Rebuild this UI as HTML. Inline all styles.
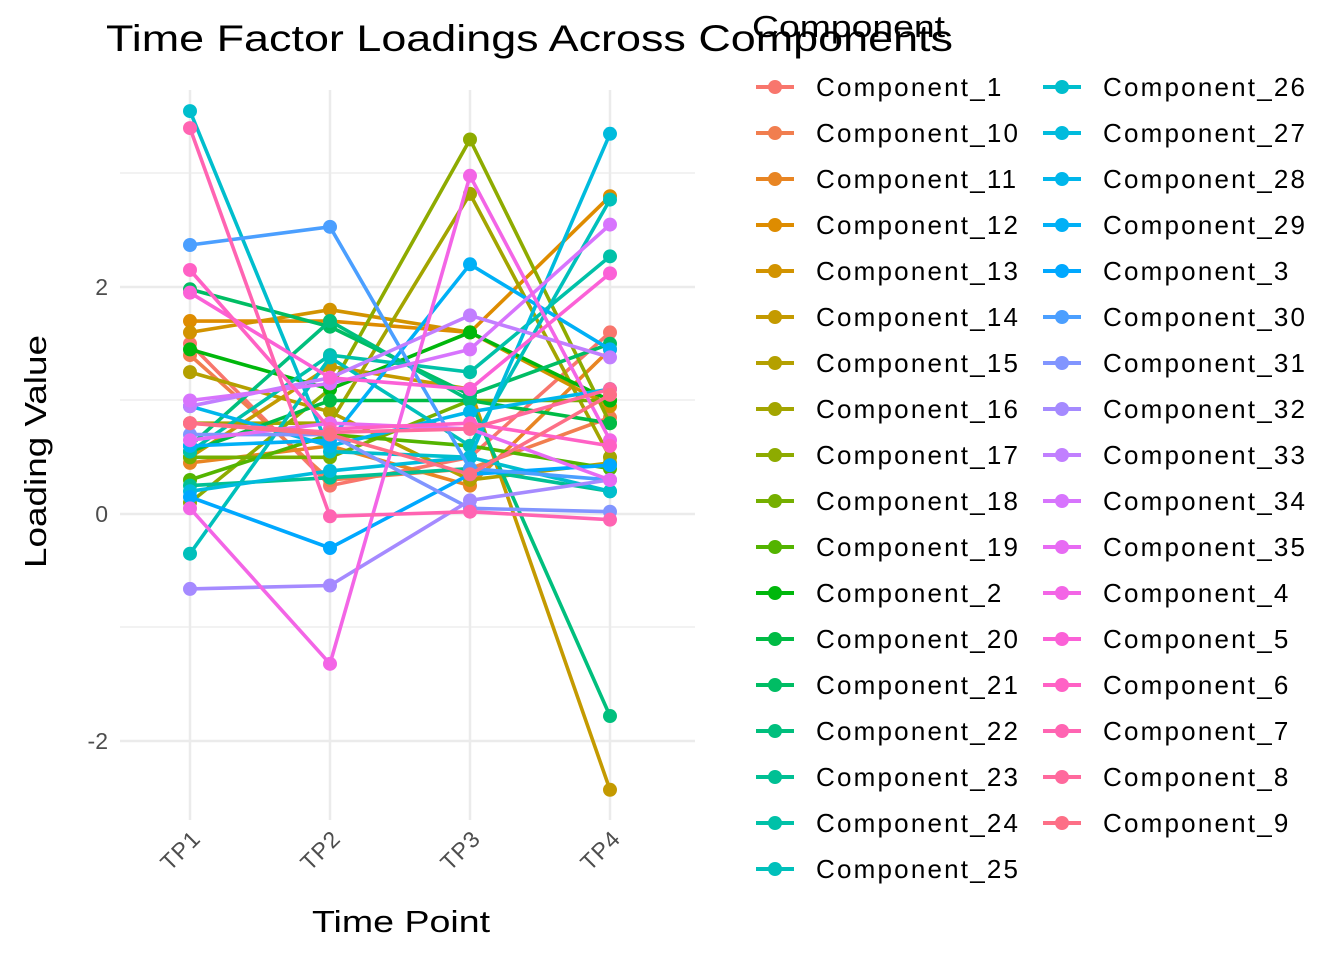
<!DOCTYPE html>
<html><head><meta charset="utf-8">
<style>
html,body{margin:0;padding:0;background:#fff;}
svg{display:block;font-family:"Liberation Sans",Arial,sans-serif;}
</style></head>
<body>
<svg id="s" width="1344" height="960" xmlns="http://www.w3.org/2000/svg">
<rect width="1344" height="960" fill="#fff"/>
<g id="grid" stroke="#ebebeb" fill="none">
<line x1="120" x2="695" y1="173" y2="173" stroke-width="1.2"/>
<line x1="120" x2="695" y1="400" y2="400" stroke-width="1.2"/>
<line x1="120" x2="695" y1="627" y2="627" stroke-width="1.2"/>
<line x1="120" x2="695" y1="287" y2="287" stroke-width="2.5"/>
<line x1="120" x2="695" y1="514" y2="514" stroke-width="2.5"/>
<line x1="120" x2="695" y1="741" y2="741" stroke-width="2.5"/>
<line x1="190" x2="190" y1="90" y2="820" stroke-width="2.5"/>
<line x1="330" x2="330" y1="90" y2="820" stroke-width="2.5"/>
<line x1="470" x2="470" y1="90" y2="820" stroke-width="2.5"/>
<line x1="610" x2="610" y1="90" y2="820" stroke-width="2.5"/>
</g>
<g id="series"></g>
<g fill="#4d4d4d" font-size="23" text-anchor="end">
<text x="108" y="295">2</text>
<text x="108" y="522">0</text>
<text x="108" y="749">-2</text>
</g>
<g fill="#4d4d4d" font-size="23" text-anchor="end" letter-spacing="1">
<text transform="translate(202,840) rotate(-45)">TP1</text>
<text transform="translate(342,840) rotate(-45)">TP2</text>
<text transform="translate(482,840) rotate(-45)">TP3</text>
<text transform="translate(622,840) rotate(-45)">TP4</text>
</g>
<text x="312" y="932" font-size="31" textLength="178" lengthAdjust="spacingAndGlyphs" fill="#000">Time Point</text>
<text transform="translate(46,568) rotate(-90)" font-size="31" textLength="233" lengthAdjust="spacingAndGlyphs" fill="#000">Loading Value</text>
<text x="752" y="37" font-size="31" textLength="193" lengthAdjust="spacingAndGlyphs" fill="#000">Component</text>
<text x="106" y="51" font-size="37" textLength="847" lengthAdjust="spacingAndGlyphs" fill="#000">Time Factor Loadings Across Components</text>
<g id="legend"></g>
</svg>
<script>
function hcl(h){var L=65,C=100;var hr=h*Math.PI/180;var u=C*Math.cos(hr),v=C*Math.sin(hr);
var Xn=95.047,Yn=100,Zn=108.883;var d=Xn+15*Yn+3*Zn;var un=4*Xn/d,vn=9*Yn/d;
var Y=Yn*Math.pow((L+16)/116,3);var up=u/(13*L)+un,vp=v/(13*L)+vn;
var X=9*Y*up/(4*vp),Z=(12-3*up-20*vp)*Y/(4*vp);X/=100;Y/=100;Z/=100;
var r=3.2404542*X-1.5371385*Y-0.4985314*Z,g=-0.9692660*X+1.8760108*Y+0.0415560*Z,b=0.0556434*X-0.2040259*Y+1.0572252*Z;
function gm(c){c=c<=0.0031308?12.92*c:1.055*Math.pow(c,1/2.4)-0.055;return Math.max(0,Math.min(255,Math.round(c*255)));}
return "rgb("+gm(r)+","+gm(g)+","+gm(b)+")";}
var names=["1","10","11","12","13","14","15","16","17","18","19","2","20","21","22","23","24","25","26","27","28","29","3","30","31","32","33","34","35","4","5","6","7","8","9"];
var D={"1":[1.5,0.25,0.5,1.6],"10":[1.4,0.3,0.4,0.85],"11":[0.45,0.6,0.25,1.45],"12":[1.7,1.7,1.6,2.8],"13":[1.6,1.8,1.6,0.95],"14":[0.5,1.3,1.1,-2.43],"15":[1.25,0.9,0.3,0.45],"16":[0.8,0.8,2.82,0.5],"17":[0.1,1.1,3.3,0.8],"18":[0.5,0.5,1.0,1.0],"19":[0.3,0.7,0.6,0.4],"2":[1.45,1.1,1.6,1.0],"20":[0.55,1.0,1.0,0.8],"21":[1.98,1.65,1.05,1.5],"22":[0.6,1.7,1.0,-1.78],"23":[0.25,0.32,0.4,0.2],"24":[0.55,1.4,1.25,2.27],"25":[-0.35,1.38,0.6,2.77],"26":[3.55,0.55,0.5,0.2],"27":[0.2,0.38,0.5,3.35],"28":[0.95,0.6,0.9,1.1],"29":[0.6,0.65,2.2,1.45],"3":[0.15,-0.3,0.35,0.43],"30":[2.37,2.53,0.4,0.3],"31":[0.7,0.7,0.05,0.02],"32":[-0.66,-0.63,0.12,0.3],"33":[0.95,1.2,1.75,1.38],"34":[1.0,1.15,1.45,2.55],"35":[0.65,0.8,0.75,0.3],"4":[0.05,-1.32,2.98,0.65],"5":[1.95,1.2,1.1,2.12],"6":[2.15,0.75,0.8,0.6],"7":[3.4,-0.02,0.02,-0.05],"8":[0.8,0.72,0.75,1.1],"9":[0.8,0.7,0.35,1.05]};
var NS="http://www.w3.org/2000/svg";var xs=[190,330,470,610];
function Y(v){return 514-113.5*v;}
var sg=document.getElementById("series"),lg=document.getElementById("legend");
names.forEach(function(n,i){var col=hcl(15+i*360/35);var d=D[n];
var pl=document.createElementNS(NS,"polyline");pl.setAttribute("points",d.map(function(v,j){return xs[j]+","+Y(v).toFixed(1)}).join(" "));
pl.setAttribute("fill","none");pl.setAttribute("stroke",col);pl.setAttribute("stroke-width","3.6");sg.appendChild(pl);
d.forEach(function(v,j){var c=document.createElementNS(NS,"circle");c.setAttribute("cx",xs[j]);c.setAttribute("cy",Y(v));c.setAttribute("r","7");c.setAttribute("fill",col);sg.appendChild(c);});
var colI=i<18?0:1,row=i<18?i:i-18;var kx=colI?1043:756,tx=colI?1103:816,y=87+row*46;
var l=document.createElementNS(NS,"line");l.setAttribute("x1",kx);l.setAttribute("x2",kx+38);l.setAttribute("y1",y);l.setAttribute("y2",y);l.setAttribute("stroke",col);l.setAttribute("stroke-width","4");lg.appendChild(l);
var c=document.createElementNS(NS,"circle");c.setAttribute("cx",kx+19);c.setAttribute("cy",y);c.setAttribute("r","7");c.setAttribute("fill",col);lg.appendChild(c);
var t=document.createElementNS(NS,"text");t.setAttribute("x",tx);t.setAttribute("y",y+9);t.setAttribute("font-size","26");t.setAttribute("letter-spacing","2.2");t.setAttribute("fill","#000");t.textContent="Component_"+n;lg.appendChild(t);
});
</script>
</body></html>
